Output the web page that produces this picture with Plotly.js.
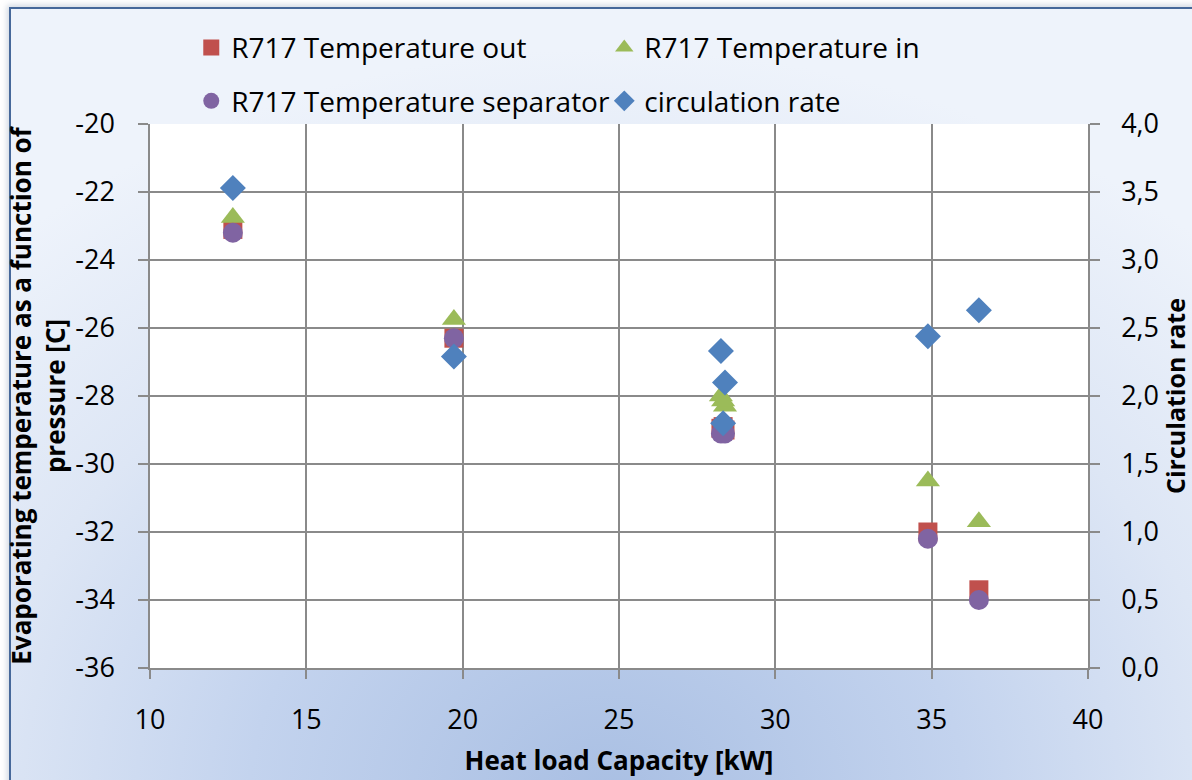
<!DOCTYPE html>
<html>
<head>
<meta charset="utf-8">
<script src="https://cdn.plot.ly/plotly-3.0.1.min.js"></script>
<style>
  html, body { margin: 0; padding: 0; background: #ffffff; }
  #frame {
    position: absolute; left: 9px; top: 7px; width: 1192px; height: 790px;
    border: 2px solid #46689a;
    box-shadow: -2px -2px 6px rgba(120,140,170,0.35);
    background: radial-gradient(ellipse 75% 95% at 50% 100%, #a9bfe3 0%, #c3d3ee 40%, #dde6f5 70%, #eef3fb 100%);
  }
  #chart { position: absolute; left: 0; top: 0; width: 1192px; height: 780px; }
</style>
</head>
<body>
<div id="frame"></div>
<div id="chart"></div>
<script>
// Heat load vs evaporating temperature / circulation rate
const heatLoad = [12.65, 19.72, 28.26, 28.39, 28.33, 34.88, 36.51];

const tempOut = [-23.1, -26.3, -28.95, -29.0, -28.9, -32.0, -33.7];
const tempIn = [-22.75, -25.75, -28.0, -28.3, -28.15, -30.5, -31.7];
const tempSep = [-23.2, -26.3, -29.1, -29.1, -29.05, -32.2, -34.0];
const circRate = [3.53, 2.29, 2.33, 2.10, 1.80, 2.44, 2.63];

const leftTicks = [-36, -34, -32, -30, -28, -26, -24, -22, -20];
const leftTickText = ['-36', '-34', '-32', '-30', '-28', '-26', '-24', '-22', '-20'];
const xTicks = [10, 15, 20, 25, 30, 35, 40];

const FONT = 'Open Sans, sans-serif';
const GRID = '#8a8a8a';

const traces = [
  {
    x: heatLoad, y: tempOut, name: 'R717 Temperature out',
    type: 'scatter', mode: 'markers', legend: 'legend',
    marker: { symbol: 'square', size: 19, color: '#c0504d' },
  },
  {
    x: heatLoad, y: tempIn, name: 'R717 Temperature in',
    type: 'scatter', mode: 'markers', legend: 'legend',
    marker: { symbol: 'triangle-up', size: 21, color: '#9bbb59' },
  },
  {
    x: heatLoad, y: tempSep, name: 'R717 Temperature separator',
    type: 'scatter', mode: 'markers', legend: 'legend2',
    marker: { symbol: 'circle', size: 20, color: '#8064a2' },
  },
  {
    x: heatLoad, y: circRate, name: 'circulation rate', yaxis: 'y2',
    type: 'scatter', mode: 'markers', legend: 'legend2',
    marker: { symbol: 'diamond', size: 20, color: '#4f81bd' },
  },
];

const legendBase = {
  orientation: 'h', xanchor: 'left', yanchor: 'middle', x: 0.044,
  entrywidth: 368, entrywidthmode: 'pixels', itemwidth: 30,
  bgcolor: 'rgba(0,0,0,0)', font: { family: FONT, size: 28, color: '#000' },
  traceorder: 'normal',
};

const layout = {
  width: 1192, height: 780,
  paper_bgcolor: 'rgba(0,0,0,0)',
  plot_bgcolor: '#ffffff',
  margin: { l: 150, r: 104, t: 124, b: 112 },
  separators: ',.',
  font: { family: FONT, color: '#000', size: 26 },
  showlegend: true,
  legend: Object.assign({}, legendBase, { y: 1.14 }),
  legend2: Object.assign({}, legendBase, { y: 1.042 }),
  xaxis: {
    range: [10, 40], tickvals: xTicks, showgrid: true,
    gridcolor: GRID, gridwidth: 1.5, linecolor: GRID, linewidth: 1.5,
    ticks: 'outside', ticklen: 9, tickcolor: GRID, tickwidth: 1.5,
    ticklabelstandoff: 18, zeroline: false,
    tickfont: { family: FONT, size: 27 },
    title: { text: 'Heat load Capacity [kW]', font: { family: FONT, size: 26, weight: 'bold' }, standoff: 16 },
  },
  yaxis: {
    range: [-36, -20], tickvals: leftTicks, ticktext: leftTickText, showgrid: true,
    gridcolor: GRID, gridwidth: 1.5, linecolor: GRID, linewidth: 1.5,
    ticks: 'outside', ticklen: 10, tickcolor: GRID, tickwidth: 1.5,
    ticklabelstandoff: 18, zeroline: false,
    tickfont: { family: FONT, size: 27 },
    title: { text: 'Evaporating temperature as a function of<br>pressure [C]', font: { family: FONT, size: 26, weight: 'bold' }, standoff: 2 },
  },
  yaxis2: {
    overlaying: 'y', side: 'right', range: [0, 4], dtick: 0.5, tickformat: '.1f',
    showgrid: false, linecolor: GRID, linewidth: 1.5, showline: true,
    ticks: 'outside', ticklen: 10, tickcolor: GRID, tickwidth: 1.5,
    ticklabelstandoff: 16, zeroline: false,
    tickfont: { family: FONT, size: 27 },
    title: { text: 'Circulation rate', font: { family: FONT, size: 25, weight: 'bold' }, standoff: 2 },
  },
};

Plotly.newPlot('chart', traces, layout, { displayModeBar: false, responsive: false });
</script>
</body>
</html>
